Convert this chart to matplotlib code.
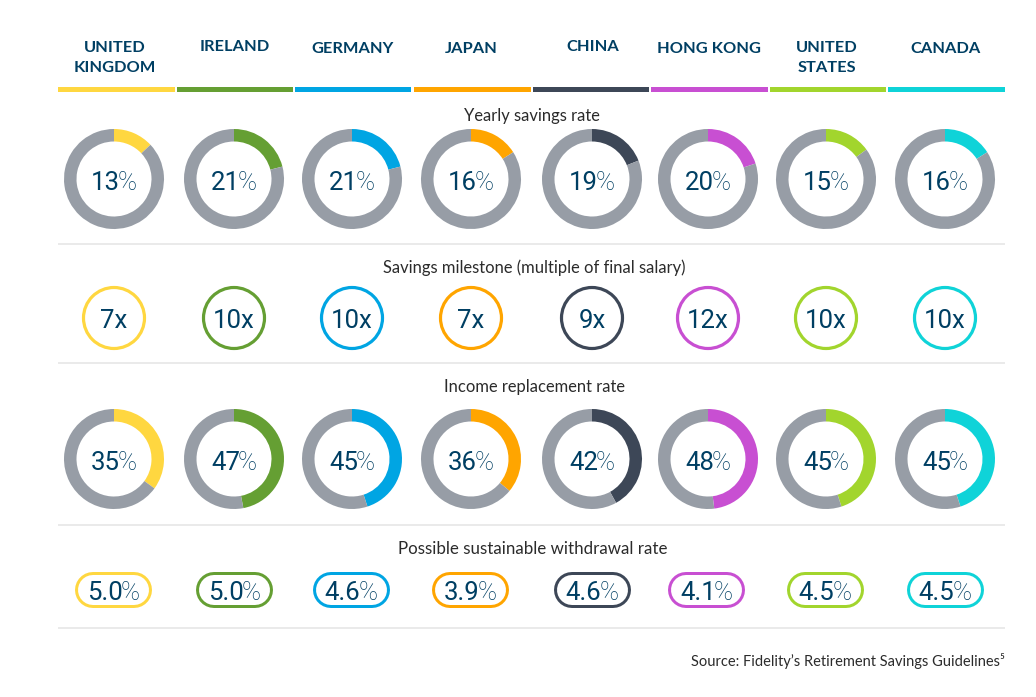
import matplotlib
matplotlib.use('Agg')
import matplotlib.pyplot as plt
from matplotlib.patches import Circle, Rectangle

countries = ['UNITED\nKINGDOM', 'IRELAND', 'GERMANY', 'JAPAN', 'CHINA', 'HONG KONG', 'UNITED\nSTATES', 'CANADA']
savings_rate = [13, 21, 21, 16, 19, 20, 15, 16]
milestone = [7, 10, 10, 7, 9, 12, 10, 10]
replacement_rate = [35, 47, 45, 36, 42, 48, 45, 45]
withdrawal_rate = [5.0, 5.0, 4.6, 3.9, 4.6, 4.1, 4.5, 4.5]
row_titles = ['Yearly savings rate', 'Savings milestone (multiple of final salary)',
              'Income replacement rate', 'Possible sustainable withdrawal rate']
source = 'Source: Fidelity\u2019s Retirement Savings Guidelines\u2075'

colors = ['#FFD740', '#659F33', '#00A5E3', '#FFA500', '#3D4757', '#C84FD2', '#A2D52D', '#0FD3D8']
GREY = '#979DA6'
NAVY = '#003F63'
INK = '#2B2B2B'
RULE = '#E6E6E6'

W, H = 1036, 697
PX = 0.72  # points per pixel at dpi 100
col_x = [114, 234, 352, 471, 592, 708, 826, 945]
pill_x = [113.5, 234, 351, 470.5, 592, 706.5, 825, 945]
bar_edges = [(58, 175), (177, 293), (295, 411), (414, 531), (533, 649), (651, 768), (770, 886), (888, 1005)]
head_y = [58, 47, 49, 49, 47, 49, 58, 49]

plt.rcParams['font.family'] = ['Lato', 'DejaVu Sans']

fig = plt.figure(figsize=(W / 100, H / 100), dpi=100, facecolor='white')
renderer = fig.canvas.get_renderer()
# overlay in pixel coords, y going down like the image
ax = fig.add_axes([0, 0, 1, 1], zorder=2)
ax.set_xlim(0, W)
ax.set_ylim(H, 0)
ax.axis('off')
ax.patch.set_alpha(0)


def donut(cx, cy, pct, color, r=50):
    a = fig.add_axes([(cx - r) / W, 1 - (cy + r) / H, 2 * r / W, 2 * r / H], zorder=1)
    a.pie([pct, 100 - pct], colors=[color, GREY], startangle=90, counterclock=False,
          radius=1, wedgeprops={'width': 0.25, 'linewidth': 0})
    a.set_xlim(-1, 1)
    a.set_ylim(-1, 1)


def pill(cx, cy, color, width=77, height=36, ring=3):
    # two round-capped strokes, white on top of the colour
    half = (width - height) / 2
    ax.plot([cx - half, cx + half], [cy, cy], color=color, lw=height * PX, solid_capstyle='round')
    ax.plot([cx - half, cx + half], [cy, cy], color='white', lw=(height - 2 * ring) * PX,
            solid_capstyle='round')


def percent(x, y, number, size=18.5, gap=-2):
    # digits regular, % sign light: two texts side by side, centred together
    kw = dict(va='center_baseline', color=NAVY, fontsize=size, family=['Roboto', 'DejaVu Sans'])
    left = ax.text(x, y, number, ha='left', **kw)
    right = ax.text(x, y, '%', ha='left', fontweight='light', **kw)
    w1 = left.get_window_extent(renderer).width
    w2 = right.get_window_extent(renderer).width
    start = x - (w1 + w2 + gap) / 2
    left.set_x(start)
    right.set_x(start + w1 + gap)


for i, name in enumerate(countries):
    x0, x1 = bar_edges[i]
    ax.add_patch(Rectangle((x0, 87), x1 - x0, 5, color=colors[i], lw=0))
    ax.text(col_x[i] + 0.5, head_y[i], name, ha='center', va='center', color=NAVY,
            fontsize=11.8, fontweight='bold', linespacing=1.5)

    donut(col_x[i], 179, savings_rate[i], colors[i])
    percent(col_x[i], 181, str(savings_rate[i]))

    ax.add_patch(Circle((col_x[i], 318), 30.5, fill=False, ec=colors[i], lw=2.3))
    ax.text(col_x[i], 319, f'{milestone[i]}x', ha='center', va='center_baseline', color=NAVY,
            fontsize=18.5, family=['Roboto', 'DejaVu Sans'])

    donut(col_x[i], 459, replacement_rate[i], colors[i])
    percent(col_x[i], 461, str(replacement_rate[i]))

    pill(pill_x[i], 590, colors[i])
    percent(pill_x[i], 591, f'{withdrawal_rate[i]:.1f}')

for x, y, title, size in zip([532, 534.5, 535, 532.5], [116, 268, 387, 549], row_titles, [11.9, 11.9, 11.9, 12.2]):
    ax.text(x, y, title, ha='center', va='center', color=INK, fontsize=size)

for y in [244, 363, 525, 628]:
    ax.plot([58, 1005], [y, y], color=RULE, lw=1.2, solid_capstyle='butt')

ax.text(1005, 661, source, ha='right', va='center', color=INK, fontsize=10.5)

fig.savefig('out.png', dpi=100)
